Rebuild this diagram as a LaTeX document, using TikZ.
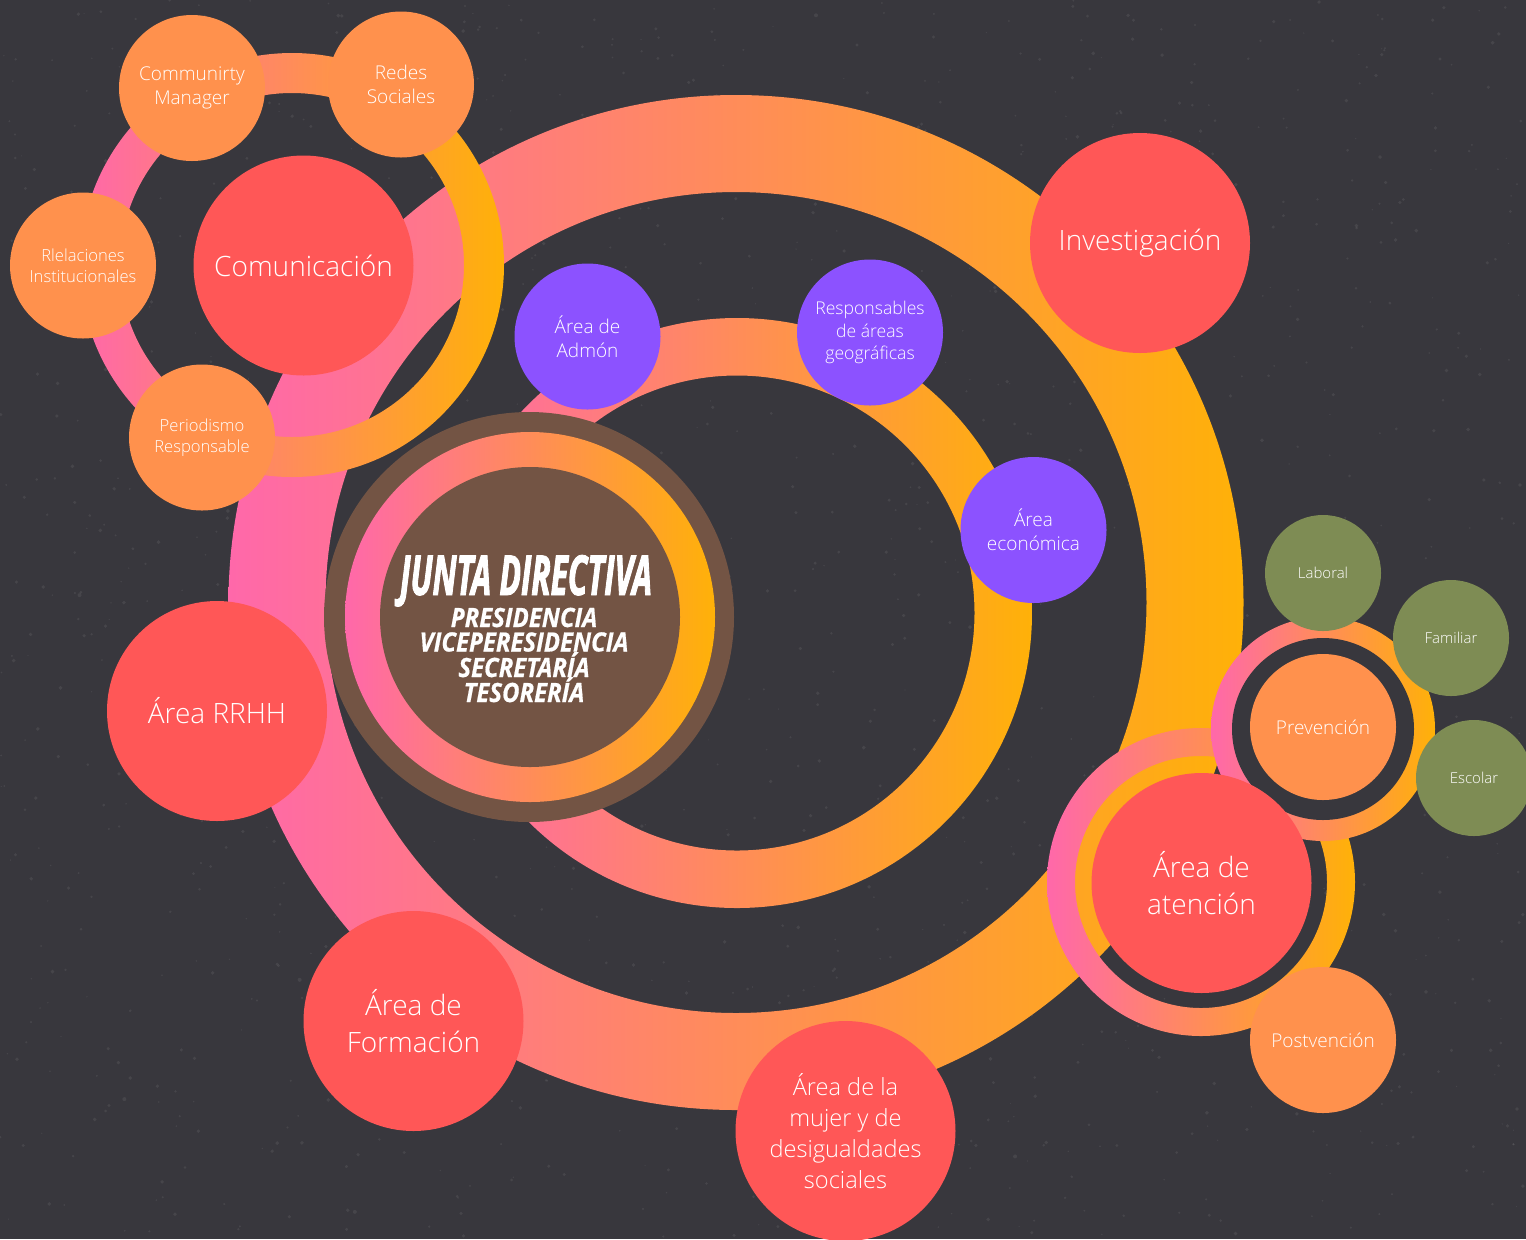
\documentclass[tikz,border=0pt]{standalone}
\usepackage{fontspec}
\usepackage{graphicx}
\setmainfont{Open Sans}
\newfontfamily\lightfont{Open Sans Light}
\newfontfamily\juntafont{Open Sans}[UprightFont={* Bold Italic}, FakeStretch=0.56, FakeBold=1.5]
\newfontfamily\cargofont{Open Sans}[UprightFont={* Bold Italic}, FakeStretch=0.9, FakeBold=0.6]
\definecolor{bgc}{RGB}{56,55,61}
\definecolor{pinkc}{RGB}{255,104,170}
\definecolor{yelc}{RGB}{255,177,8}
\definecolor{orc}{RGB}{255,145,77}
\definecolor{redc}{RGB}{255,87,87}
\definecolor{purc}{RGB}{140,82,255}
\definecolor{olc}{RGB}{126,140,84}
\definecolor{brc}{RGB}{115,84,68}
\tikzset{
  bubble/.style={circle, inner sep=0pt, text=white, align=center},
  redbub/.style={bubble, fill=redc, minimum size=110pt, font=\lightfont\fontsize{14}{18.5}\selectfont},
  orbub/.style={bubble, fill=orc, minimum size=73pt, font=\lightfont\fontsize{9.5}{12.3}\selectfont},
  smallorbub/.style={orbub, font=\lightfont\fontsize{8.3}{10.5}\selectfont},
  purbub/.style={bubble, fill=purc, minimum size=73pt, font=\lightfont\fontsize{9.5}{12}\selectfont},
  olbub/.style={bubble, fill=olc, minimum size=58pt, font=\lightfont\fontsize{7.5}{9}\selectfont},
  gradring/.style={even odd rule, left color=pinkc, right color=yelc},
  cargo/.style={anchor=base, inner sep=0pt, text=white, font=\cargofont\fontsize{13.3}{13.3}\selectfont},
  speck/.style={fill=white, opacity=0.07}
}
\begin{document}
\begin{tikzpicture}[x=0.5pt, y=-0.5pt]
  % background (chalkboard)
  \fill[bgc] (0,0) rectangle (1526,1239);
  \useasboundingbox (0,0) rectangle (1526,1239);
  \pgfmathsetseed{4242}
  \foreach \i in {1,...,1400} {
    \fill[speck] (rnd*1526, rnd*1239) circle[radius=0.6+rnd*1.4];
  }

  % main ring
  \shade[gradring] (736,602.5) circle[radius=507.5] (736,602.5) circle[radius=410.5];
  % middle ring
  \shade[gradring] (737,613) circle[radius=295] (737,613) circle[radius=237.5];
  % communication ring
  \shade[gradring] (292,265) circle[radius=212] (292,265) circle[radius=172];

  % junta directiva
  \fill[brc] (529,617) circle[radius=205];
  \shade[left color=pinkc, right color=yelc] (530,617) circle[radius=185];
  \node[circle, fill=brc, minimum size=150pt, inner sep=0pt] (junta) at (530,617) {};
  \node[anchor=base, inner sep=0pt, text=white] (juntatitle) at (526,595)
    {\resizebox{126pt}{20pt}{\juntafont JUNTA DIRECTIVA}};
  \node[cargo] (presidencia) at (524,627) {PRESIDENCIA};
  \node[cargo] (vice) at (524,651.5) {VICEPERESIDENCIA};
  \node[cargo] (secretaria) at (524,677) {SECRETARÍA};
  \node[cargo] (tesoreria) at (524,702) {TESORERÍA};

  % area de atencion ring
  \shade[gradring] (1201,882) circle[radius=154] (1201,882) circle[radius=126];
  % prevencion ring
  \shade[left color=pinkc, right color=yelc] (1323,729) circle[radius=112];
  \fill[bgc] (1323,729) circle[radius=91];

  % comunicacion group
  \node[redbub] (comunicacion) at (303.5,265.5) {Comunicación};
  \node[orbub] (community) at (192,88) {Communirty\\Manager};
  \node[orbub] (redes) at (401,84.5) {Redes\\Sociales};
  \node[smallorbub] (relaciones) at (83,265.5) {Rlelaciones\\Institucionales};
  \node[smallorbub] (periodismo) at (202,437.5) {Periodismo\\Responsable};

  % main areas
  \node[redbub] (investigacion) at (1140,243) {Investigación};
  \node[redbub] (rrhh) at (217,711) {Área RRHH};
  \node[redbub] (formacion) at (413.5,1021) {Área de\\Formación};
  \node[redbub, font=\lightfont\fontsize{11.8}{15.5}\selectfont] (mujer) at (845.5,1131)
    {Área de la\\mujer y de\\desigualdades\\sociales};
  \node[redbub] (atencion) at (1201.5,883) {Área de\\atención};

  % purple areas
  \node[purbub] (admon) at (587.5,336.5) {Área de\\Admón};
  \node[purbub, font=\lightfont\fontsize{8.8}{11.25}\selectfont] (responsables) at (870,332.5)
    {Responsables\\de áreas\\geográficas};
  \node[purbub] (economica) at (1033.5,530) {Área\\económica};

  % atencion sub-areas
  \node[orbub] (prevencion) at (1323,727) {Prevención};
  \node[orbub] (postvencion) at (1323,1040) {Postvención};
  \node[olbub] (laboral) at (1323,573) {Laboral};
  \node[olbub] (familiar) at (1451,638) {Familiar};
  \node[olbub] (escolar) at (1474,778) {Escolar};
\end{tikzpicture}
\end{document}
